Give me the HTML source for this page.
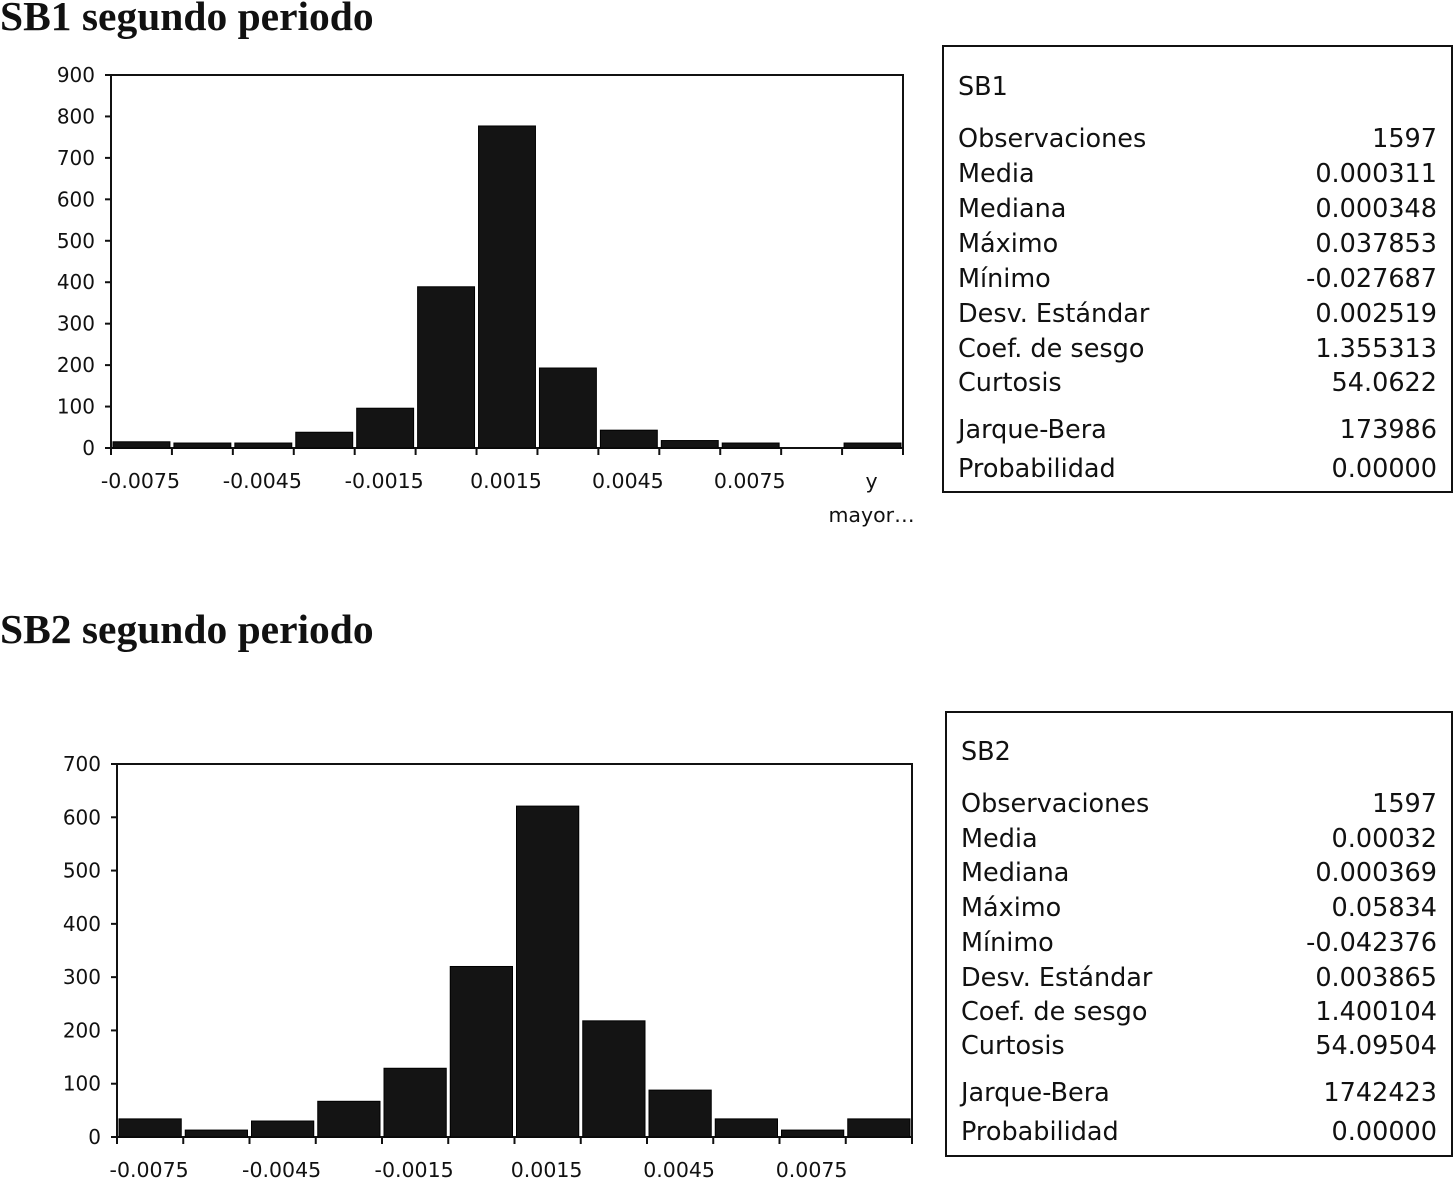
<!DOCTYPE html>
<html><head><meta charset="utf-8">
<style>
body{margin:0;background:#fff;width:1456px;height:1180px;overflow:hidden;position:relative;font-family:"DejaVu Sans",sans-serif}
.title{position:absolute;left:0;font-family:"Liberation Serif",serif;font-weight:bold;font-size:41.5px;color:#111;white-space:nowrap}
.stats{position:absolute;border:2px solid #111;box-sizing:border-box;font-size:25.5px;color:#111}
.row{position:absolute;left:14px;right:14px;display:flex;justify-content:space-between;line-height:30px}
svg{position:absolute;left:0;top:0}
</style></head><body>
<div class="title" style="top:-8px">SB1 segundo periodo</div>
<div class="title" style="top:605px">SB2 segundo periodo</div>

<div class="stats" style="left:942px;top:45px;width:511px;height:448px">
<div class="row" style="top:25px"><span>SB1</span></div>
<div class="row" style="top:77px"><span>Observaciones</span><span>1597</span></div>
<div class="row" style="top:112px"><span>Media</span><span>0.000311</span></div>
<div class="row" style="top:147px"><span>Mediana</span><span>0.000348</span></div>
<div class="row" style="top:182px"><span>Máximo</span><span>0.037853</span></div>
<div class="row" style="top:217px"><span>Mínimo</span><span>-0.027687</span></div>
<div class="row" style="top:252px"><span>Desv. Estándar</span><span>0.002519</span></div>
<div class="row" style="top:287px"><span>Coef. de sesgo</span><span>1.355313</span></div>
<div class="row" style="top:321px"><span>Curtosis</span><span>54.0622</span></div>
<div class="row" style="top:368px"><span>Jarque-Bera</span><span>173986</span></div>
<div class="row" style="top:407px"><span>Probabilidad</span><span>0.00000</span></div>
</div>
<div class="stats" style="left:945px;top:711px;width:508px;height:446px">
<div class="row" style="top:24px"><span>SB2</span></div>
<div class="row" style="top:76px"><span>Observaciones</span><span>1597</span></div>
<div class="row" style="top:111px"><span>Media</span><span>0.00032</span></div>
<div class="row" style="top:145px"><span>Mediana</span><span>0.000369</span></div>
<div class="row" style="top:180px"><span>Máximo</span><span>0.05834</span></div>
<div class="row" style="top:215px"><span>Mínimo</span><span>-0.042376</span></div>
<div class="row" style="top:250px"><span>Desv. Estándar</span><span>0.003865</span></div>
<div class="row" style="top:284px"><span>Coef. de sesgo</span><span>1.400104</span></div>
<div class="row" style="top:318px"><span>Curtosis</span><span>54.09504</span></div>
<div class="row" style="top:365px"><span>Jarque-Bera</span><span>1742423</span></div>
<div class="row" style="top:404px"><span>Probabilidad</span><span>0.00000</span></div>
</div>

<svg id="svg" width="1456" height="1180"></svg>
<script>
const categories1 = ["-0.0075","-0.006","-0.0045","-0.003","-0.0015","0","0.0015","0.003","0.0045","0.006","0.0075","0.009","y mayor…"];
const values1 = [15,12,12,38,96,389,777,193,43,18,12,0,12];
const yTicks1 = [0,100,200,300,400,500,600,700,800,900];
const categories2 = ["-0.0075","-0.006","-0.0045","-0.003","-0.0015","0","0.0015","0.003","0.0045","0.006","0.0075","0.009"];
const values2 = [34,13,30,67,129,320,621,218,88,34,13,34];
const yTicks2 = [0,100,200,300,400,500,600,700];

const svg=document.getElementById('svg');
const NS='http://www.w3.org/2000/svg';
function mk(t,a){const e=document.createElementNS(NS,t);for(const k in a)e.setAttribute(k,a[k]);svg.appendChild(e);return e;}
function chart(id,cats,vals,ticks,L,R,T,B,ymax){
  const n=cats.length,bw=(R-L)/n;
  const y=v=>B-(v/ymax)*(B-T);
  const f=mk('rect',{x:L,y:T,width:R-L,height:B-T,fill:'none',stroke:'#111','stroke-width':2});
  
  
  ticks.forEach(t=>{
    const l=mk('line',{x1:L-6,x2:L,y1:y(t),y2:y(t),stroke:'#111','stroke-width':2});
    
    
    const tx=mk('text',{x:L-16,y:y(t)+7,'text-anchor':'end','font-size':20,fill:'#111','font-family':'DejaVu Sans, sans-serif'});
    tx.textContent=t;
    
    
  });
  for(let i=0;i<=n;i++){
    const l=mk('line',{x1:L+i*bw,x2:L+i*bw,y1:B,y2:B+7,stroke:'#111','stroke-width':2});
    
    
  }
  vals.forEach((v,i)=>{
    if(v>0){
      const r=mk('rect',{x:L+i*bw+2,y:y(v),width:bw-4,height:B-y(v),fill:'#141414',stroke:'#000','stroke-width':1});
      
      
    }
    if(i%2===0){
      const cx=L+(i+0.5)*bw;
      const words=cats[i].split(' ');
      words.forEach((w,k)=>{
        const tx=mk('text',{x:cx-1,y:B+40+k*34,'text-anchor':'middle','font-size':20.5,fill:'#111','font-family':'DejaVu Sans, sans-serif'});
        tx.textContent=w;
        
        
      });
    }
  });
}
chart('sb1',categories1,values1,yTicks1,111,903,75,448,900);
chart('sb2',categories2,values2,yTicks2,117,912,764,1137,700);
</script>
</body></html>
